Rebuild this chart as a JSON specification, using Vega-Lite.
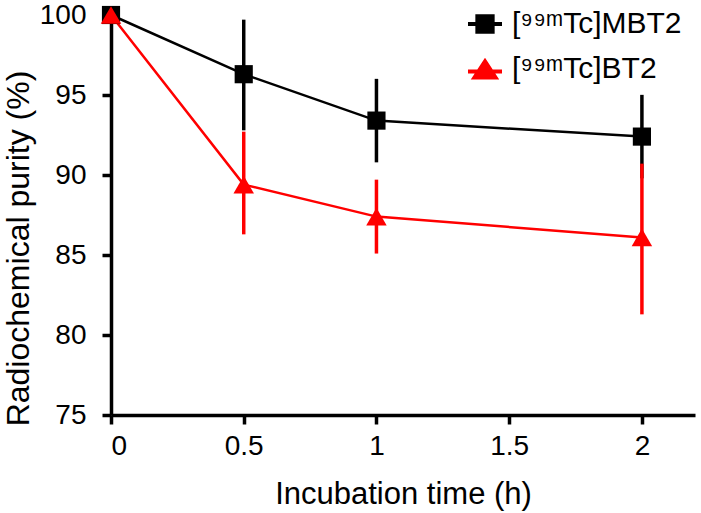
{
  "$schema": "https://vega.github.io/schema/vega-lite/v6.json",
  "width": 584,
  "height": 400,
  "autosize": {"type": "none"},
  "padding": {"left": 111, "top": 15, "right": 6, "bottom": 98},
  "background": "white",
  "config": {
    "view": {"stroke": null},
    "font": "Liberation Sans",
    "axis": {
      "grid": false,
      "domainColor": "black",
      "domainWidth": 3.5,
      "tickColor": "black",
      "tickWidth": 3.5,
      "tickSize": 9,
      "labelFont": "Liberation Sans",
      "labelFontSize": 28,
      "labelColor": "black",
      "titleFont": "Liberation Sans",
      "titleFontSize": 31,
      "titleFontWeight": "normal",
      "titleColor": "black"
    },
    "legend": {
      "labelFont": "Liberation Sans",
      "labelFontSize": 30,
      "labelColor": "black",
      "labelLimit": 400
    }
  },
  "data": {
    "values": [
      {"t": 0, "v": 100, "lo": 100, "hi": 100, "s": "[⁹⁹ᵐTc]MBT2"},
      {"t": 0.5, "v": 96.3, "lo": 92.9, "hi": 99.6, "s": "[⁹⁹ᵐTc]MBT2"},
      {"t": 1, "v": 93.4, "lo": 90.9, "hi": 95.9, "s": "[⁹⁹ᵐTc]MBT2"},
      {"t": 2, "v": 92.4, "lo": 89.9, "hi": 94.9, "s": "[⁹⁹ᵐTc]MBT2"},
      {"t": 0, "v": 100, "lo": 100, "hi": 100, "s": "[⁹⁹ᵐTc]BT2"},
      {"t": 0.5, "v": 89.4, "lo": 86.4, "hi": 92.6, "s": "[⁹⁹ᵐTc]BT2"},
      {"t": 1, "v": 87.4, "lo": 85.2, "hi": 89.6, "s": "[⁹⁹ᵐTc]BT2"},
      {"t": 2, "v": 86.1, "lo": 81.4, "hi": 90.6, "s": "[⁹⁹ᵐTc]BT2"}
    ]
  },
  "encoding": {
    "x": {
      "field": "t",
      "type": "quantitative",
      "scale": {"domain": [0, 2.2], "nice": false, "zero": false},
      "axis": {
        "values": [0, 0.5, 1, 1.5, 2],
        "format": "~g",
        "labelPadding": 8,
        "title": "Incubation time (h)",
        "titleX": 292,
        "titleY": 79,
        "titleBaseline": "middle",
        "titleAnchor": null
      }
    },
    "color": {
      "field": "s",
      "type": "nominal",
      "scale": {"domain": ["[⁹⁹ᵐTc]MBT2", "[⁹⁹ᵐTc]BT2"], "range": ["#000000", "#ff0000"]},
      "legend": {
        "title": null,
        "orient": "none",
        "legendX": 355,
        "legendY": -10,
        "symbolSize": 1156,
        "symbolStrokeWidth": 4,
        "rowPadding": 10,
        "labelOffset": 8,
        "encode": {
          "symbols": {
            "update": {
              "shape": {"signal": "datum.value == '[⁹⁹ᵐTc]MBT2' ? 'M-1,0H1M-0.45,-0.45H0.45V0.45H-0.45Z' : 'M-1,0.15H1M0,-0.45L0.62,0.5H-0.62Z'"},
              "fill": {"signal": "datum.value == '[⁹⁹ᵐTc]MBT2' ? '#000000' : '#ff0000'"},
              "stroke": {"signal": "datum.value == '[⁹⁹ᵐTc]MBT2' ? '#000000' : '#ff0000'"},
              "strokeWidth": {"value": 4},
              "opacity": {"value": 1}
            }
          }
        }
      }
    }
  },
  "layer": [
    {
      "mark": {"type": "rule", "strokeWidth": 3.5, "strokeCap": "square"},
      "encoding": {
        "y": {"field": "lo", "type": "quantitative"},
        "y2": {"field": "hi"}
      }
    },
    {
      "mark": {"type": "line", "strokeWidth": 2.5},
      "encoding": {
        "y": {
          "field": "v",
          "type": "quantitative",
          "scale": {"domain": [75, 100], "nice": false, "zero": false},
          "axis": {
            "values": [75, 80, 85, 90, 95, 100],
            "labelPadding": 16,
            "title": "Radiochemical purity (%)",
            "titleFontSize": 32,
            "titleX": -93,
            "titleY": 233,
            "titleAngle": -90,
            "titleAlign": "center",
            "titleBaseline": "middle",
            "titleAnchor": null
          }
        }
      }
    },
    {
      "transform": [{"filter": "datum.s == '[⁹⁹ᵐTc]MBT2'"}],
      "mark": {"type": "point", "shape": "square", "filled": true, "opacity": 1, "size": 330},
      "encoding": {
        "y": {"field": "v", "type": "quantitative"}
      }
    },
    {
      "transform": [{"filter": "datum.s == '[⁹⁹ᵐTc]BT2'"}],
      "mark": {"type": "point", "shape": "triangle-up", "filled": true, "opacity": 1, "size": 420},
      "encoding": {
        "y": {"field": "v", "type": "quantitative"}
      }
    }
  ]
}
